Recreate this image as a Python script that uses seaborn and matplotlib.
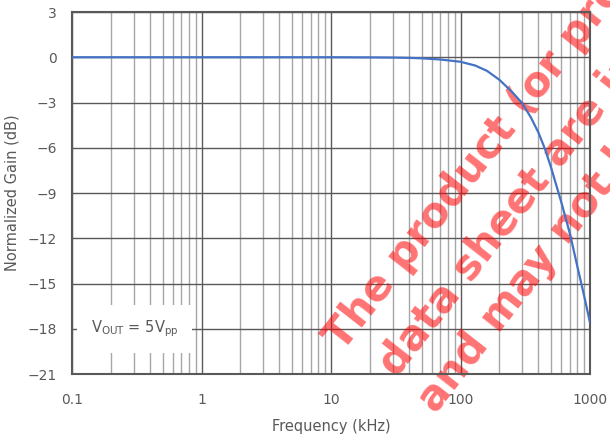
import numpy as np
import pandas as pd
import matplotlib
matplotlib.use("Agg")
import matplotlib.pyplot as plt
import seaborn as sns
from matplotlib.ticker import FixedLocator, LogLocator, NullFormatter

# values
freq_khz = [0.1, 1, 10, 20, 30, 40, 50, 70, 100, 130, 160, 200, 250, 300,
            350, 400, 450, 500, 600, 700, 800, 900, 1000]
gain_db = [0.0, 0.0, 0.0, -0.01, -0.02, -0.04, -0.07, -0.15, -0.3, -0.55,
           -0.9, -1.5, -2.3, -3.05, -4.0, -5.0, -6.1, -7.3, -9.6, -11.7,
           -13.9, -15.8, -17.6]
x_ticks = [0.1, 1, 10, 100, 1000]
x_tick_labels = ["0.1", "1", "10", "100", "1000"]
y_ticks = [3, 0, -3, -6, -9, -12, -15, -18, -21]
watermark = ["The product (or products)",
             "data sheet are in development",
             "and may not be available"]

df = pd.DataFrame({"freq": freq_khz, "gain": gain_db})

sns.set_theme(style="white")
plt.rcParams["font.family"] = ["DejaVu Sans"]
grey = "#595959"

fig = plt.figure(figsize=(6.1, 4.44), dpi=100)
ax = fig.add_axes([72 / 610, 1 - 374 / 444, 518 / 610, 362 / 444])

sns.lineplot(data=df, x="freq", y="gain", ax=ax, color="#4472C4", lw=1.6)
for l in ax.lines:
    l.set_zorder(5)

ax.set_xscale("log")
ax.set_xlim(0.1, 1000)
ax.set_ylim(-21, 3)
ax.xaxis.set_major_locator(FixedLocator(x_ticks))
ax.set_xticklabels(x_tick_labels)
ax.xaxis.set_minor_locator(LogLocator(base=10, subs=np.arange(2, 10), numticks=50))
ax.xaxis.set_minor_formatter(NullFormatter())
ax.set_yticks(y_ticks)

ax.set_axisbelow(True)
ax.grid(which="major", color="#595959", lw=1.0)
ax.grid(which="minor", axis="x", color="#A6A6A6", lw=1.0)
ax.tick_params(which="both", length=0, colors=grey, labelsize=10)
ax.tick_params(axis="x", pad=14)
ax.tick_params(axis="y", pad=11)
for s in ax.spines.values():
    s.set_color(grey)
    s.set_linewidth(1.5)

ax.set_xlabel("Frequency (kHz)", color=grey, fontsize=10.5, labelpad=8)
ax.set_ylabel("Normalized Gain (dB)", color=grey, fontsize=10.5, labelpad=6)

ax.text(0.14, -18, r"V$_{\mathregular{OUT}}$ = 5V$_{\mathregular{pp}}$",
        color=grey, fontsize=10.5, va="center", ha="left", zorder=4,
        bbox=dict(facecolor="white", edgecolor="none", pad=10))

# watermark, under the curve but over the grid
origins = [(343, 352), (397, 378), (436, 414)]
for (px, py), line in zip(origins, watermark):
    ax.text(px / 610, 1 - py / 444, line, transform=fig.transFigure,
            rotation=52, rotation_mode="anchor", ha="left", va="baseline",
            fontsize=30, fontweight="bold", color="red", alpha=0.55,
            zorder=2, clip_on=False)

fig.savefig("out.png", dpi=100)
